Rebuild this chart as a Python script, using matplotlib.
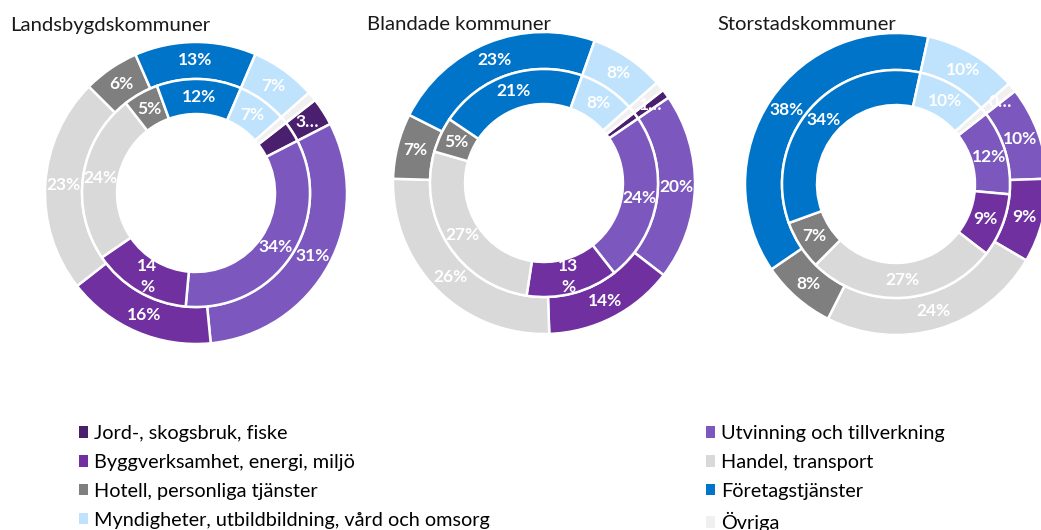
import matplotlib
matplotlib.use('Agg')
import matplotlib.pyplot as plt
from matplotlib.patches import Patch
import numpy as np

# Näringsgrenar (andel av sysselsatta), ytterring och innerring per kommungrupp
categories = ['Jord-, skogsbruk, fiske', 'Utvinning och tillverkning',
              'Byggverksamhet, energi, miljö', 'Handel, transport',
              'Hotell, personliga tjänster', 'Företagstjänster',
              'Myndigheter, utbildbildning, vård och omsorg', 'Övriga']
colors = ['#4a1f6e', '#7b57be', '#7030a0', '#d9d9d9',
          '#7f7f7f', '#0074c8', '#bfe2fd', '#f0f0f0']

groups = ['Landsbygdskommuner', 'Blandade kommuner', 'Storstadskommuner']
outer_values = [
    [3, 31, 16, 23, 6, 13, 7, 1],
    [1, 20, 14, 26, 7, 23, 8, 1],
    [0, 10, 9, 24, 8, 38, 10, 1],
]
inner_values = [
    [3, 34, 14, 24, 5, 12, 7, 1],
    [1, 24, 13, 27, 5, 21, 8, 1],
    [0, 12, 9, 27, 7, 34, 10, 1],
]

W, H = 1041, 530
fig = plt.figure(figsize=(W / 100, H / 100), dpi=100)

centers = [(196, 193), (544, 183), (896, 184)]
R = 151
first_angle = 52          # första sektorn, grader medurs från kl 12
r_mid = 0.755
r_hole = 0.523


def label_text(v, ring, cat):
    if cat == 7:
        return None
    if v < 4:
        return None if ring == 'inner' else f'{v}…'
    if ring == 'inner' and cat == 2 and v >= 10:
        return f'{v}\n%'
    return f'{v}%'


def ring_labels(ax, vals, r_out, r_in, ring):
    total = float(sum(vals))
    cum = 0.0
    rm = (r_out + r_in) / 2
    for i, v in enumerate(vals):
        mid = np.radians(first_angle + (cum + v / 2) / total * 360)
        cum += v
        txt = label_text(v, ring, i)
        if txt is None:
            continue
        ax.text(rm * np.sin(mid), rm * np.cos(mid), txt, ha='center', va='center',
                color='white', fontsize=12.5, fontweight='bold', family='Lato',
                linespacing=1.4)


for k, (cx, cy) in enumerate(centers):
    side = 2.2 * R
    ax = fig.add_axes([(cx - side / 2) / W, 1 - (cy + side / 2) / H, side / W, side / H])
    wp = dict(edgecolor='white', linewidth=1.8)
    ax.pie(outer_values[k], radius=1.0, colors=colors, startangle=90 - first_angle,
           counterclock=False, wedgeprops=dict(width=1.0 - r_mid, **wp))
    ax.pie(inner_values[k], radius=r_mid, colors=colors, startangle=90 - first_angle,
           counterclock=False, wedgeprops=dict(width=r_mid - r_hole, **wp))
    ax.set_xlim(-1.1, 1.1)
    ax.set_ylim(-1.1, 1.1)
    ring_labels(ax, outer_values[k], 1.0, r_mid, 'outer')
    ring_labels(ax, inner_values[k], r_mid, r_hole, 'inner')

title_x = [10, 367, 717]
for x, g in zip(title_x, groups):
    fig.text(x / W, 1 - 25 / H, g, ha='left', va='center', fontsize=14.6,
             family='Lato', color='#1a1a1a')

handles = [Patch(facecolor=c, edgecolor='none') for c in colors]
leg_kw = dict(frameon=False, handlelength=0.45, handleheight=0.5,
              handletextpad=0.3, labelspacing=0.6, borderpad=0, borderaxespad=0,
              prop={'family': 'Lato', 'size': 14.3})
left_idx = [0, 2, 4, 6]
right_idx = [1, 3, 5, 7]
fig.legend([handles[i] for i in left_idx], [categories[i] for i in left_idx],
           loc='upper left', bbox_to_anchor=(79 / W, 1 - 425 / H), **leg_kw)
fig.legend([handles[i] for i in right_idx], [categories[i] for i in right_idx],
           loc='upper left', bbox_to_anchor=(706 / W, 1 - 425 / H), **leg_kw)

fig.savefig('out.png', dpi=100)
